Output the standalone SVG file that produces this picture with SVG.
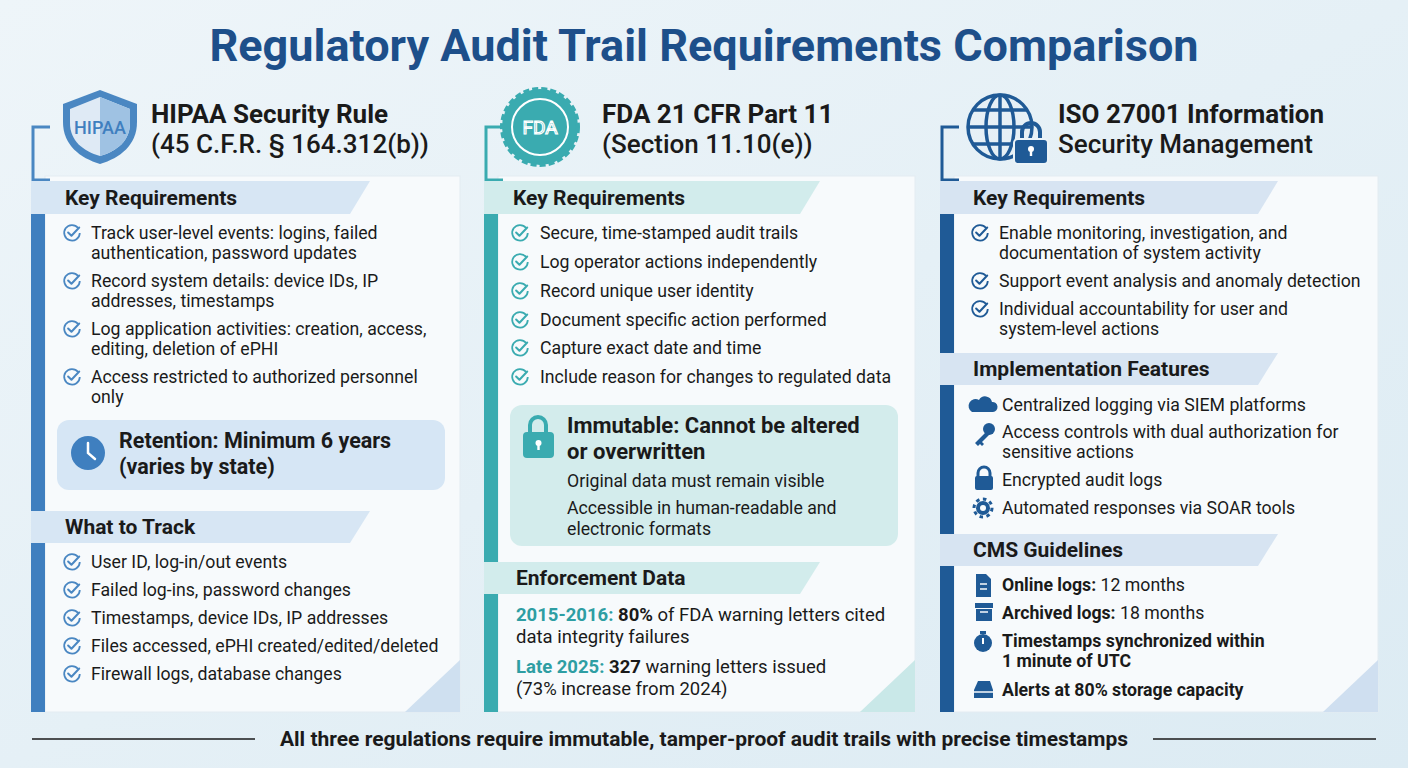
<svg xmlns="http://www.w3.org/2000/svg" width="1408" height="768" viewBox="0 0 1408 768">
<defs>
<linearGradient id="bg" x1="0" y1="0" x2="1" y2="1"><stop offset="0" stop-color="#eef5f9"/><stop offset="1" stop-color="#dcebf3"/></linearGradient>
<symbol id="chk" viewBox="-9 -9 18 18"><path d="M5.5,-4.5 A7,7 0 1 0 7,0" fill="none" stroke-width="1.6" stroke="currentColor"/><path d="M-3.5,-0.5 L-0.5,2.5 L6.5,-5" fill="none" stroke-width="1.8" stroke="currentColor" stroke-linecap="round" stroke-linejoin="round"/></symbol>
</defs>
<style>
text{font-family:Roboto,"Liberation Sans",sans-serif;fill:#1a1a1a}
.t{font-size:17.7px}
.h{font-size:21px;font-weight:700}
.hd{font-size:26px;font-weight:700}
.hd2{font-size:26px;font-weight:500}
.b{font-weight:700}
.card{fill:#f7fafc;stroke:#e3ecf2}
</style>
<rect width="1408" height="768" fill="url(#bg)"/>
<text x="704" y="61" text-anchor="middle" style="font-size:45px;font-weight:700;fill:#1d4f8a">Regulatory Audit Trail Requirements Comparison</text>

<g id="hipaa">
<rect class="card" x="45" y="176" width="415" height="536"/>
<path d="M460,660 L460,712 L405,712 Z" fill="#cfe0f0"/>
<path d="M50,127 H33 V180 H50" fill="none" stroke="#4a87c2" stroke-width="3"/>
<rect x="31" y="214" width="14" height="498" fill="#3f7fbf"/>
<path d="M31,181 H370 L350,214 H31 Z" fill="#d7e6f4"/>
<path d="M31,511 H370 L350,543 H31 Z" fill="#d7e6f4"/>
<path d="M100,90 L137,104 V122 C137,145 120,158 100,164 C80,158 63,145 63,122 V104 Z" fill="#4a87c2"/>
<path d="M100,97 L130,109 V123 C130,141 117,151 100,156 C83,151 70,141 70,123 V109 Z" fill="#dfeaf5"/>
<path d="M100,97 L130,109 V123 C130,141 117,151 100,156 Z" fill="#9fc2e3"/>
<text x="100" y="134" text-anchor="middle" style="font-size:18px;fill:#3f7fbf;font-weight:500">HIPAA</text>
<text x="151" y="123" class="hd">HIPAA Security Rule</text>
<text x="151" y="153" class="hd2">(45 C.F.R. § 164.312(b))</text>
<text x="65" y="205" class="h">Key Requirements</text>
<g color="#4a87c2"><use href="#chk" x="62" y="223" width="20" height="20"/><use href="#chk" x="62" y="271" width="20" height="20"/><use href="#chk" x="62" y="319" width="20" height="20"/><use href="#chk" x="62" y="367" width="20" height="20"/>
<use href="#chk" x="62" y="552" width="20" height="20"/><use href="#chk" x="62" y="580" width="20" height="20"/><use href="#chk" x="62" y="608" width="20" height="20"/><use href="#chk" x="62" y="636" width="20" height="20"/><use href="#chk" x="62" y="664" width="20" height="20"/></g>
<text class="t" x="91" y="239">Track user-level events: logins, failed</text>
<text class="t" x="91" y="259">authentication, password updates</text>
<text class="t" x="91" y="287">Record system details: device IDs, IP</text>
<text class="t" x="91" y="307">addresses, timestamps</text>
<text class="t" x="91" y="335">Log application activities: creation, access,</text>
<text class="t" x="91" y="355">editing, deletion of ePHI</text>
<text class="t" x="91" y="383">Access restricted to authorized personnel</text>
<text class="t" x="91" y="403">only</text>
<rect x="57" y="420" width="388" height="70" rx="12" fill="#d6e6f5"/>
<circle cx="88" cy="453" r="17" fill="#3f7fbf"/>
<path d="M88,443 V453 L95,459" fill="none" stroke="#fff" stroke-width="2.5" stroke-linecap="round"/>
<text x="119" y="448" style="font-size:21.5px;font-weight:700">Retention: Minimum 6 years</text>
<text x="119" y="474" style="font-size:21.5px;font-weight:700">(varies by state)</text>
<text x="65" y="534" class="h">What to Track</text>
<text class="t" x="91" y="568">User ID, log-in/out events</text>
<text class="t" x="91" y="596">Failed log-ins, password changes</text>
<text class="t" x="91" y="624">Timestamps, device IDs, IP addresses</text>
<text class="t" x="91" y="652">Files accessed, ePHI created/edited/deleted</text>
<text class="t" x="91" y="680">Firewall logs, database changes</text>
</g>

<g id="fda">
<rect class="card" x="498" y="176" width="417" height="536"/>
<path d="M915,660 L915,712 L860,712 Z" fill="#c9e8e8"/>
<path d="M503,127 H486 V180 H503" fill="none" stroke="#3aabb0" stroke-width="3"/>
<rect x="484" y="214" width="14" height="498" fill="#3aabb0"/>
<path d="M484,181 H820 L800,214 H484 Z" fill="#d2ecec"/>
<path d="M484,562 H820 L800,594 H484 Z" fill="#d2ecec"/>
<circle cx="540" cy="127" r="38" fill="#3aabb0" stroke="#3aabb0" stroke-width="4" stroke-dasharray="6 3"/>
<circle cx="540" cy="127" r="28" fill="none" stroke="#fff" stroke-width="2"/>
<text x="540" y="134" text-anchor="middle" style="font-size:19px;font-weight:400;fill:none;stroke:#fff;stroke-width:1.2">FDA</text>
<text x="602" y="123" class="hd">FDA 21 CFR Part 11</text>
<text x="602" y="153" class="hd2">(Section 11.10(e))</text>
<text x="513" y="205" class="h">Key Requirements</text>
<g color="#3aabb0"><use href="#chk" x="510" y="223" width="20" height="20"/><use href="#chk" x="510" y="252" width="20" height="20"/><use href="#chk" x="510" y="281" width="20" height="20"/><use href="#chk" x="510" y="310" width="20" height="20"/><use href="#chk" x="510" y="338" width="20" height="20"/><use href="#chk" x="510" y="367" width="20" height="20"/></g>
<text class="t" x="540" y="239">Secure, time-stamped audit trails</text>
<text class="t" x="540" y="268">Log operator actions independently</text>
<text class="t" x="540" y="297">Record unique user identity</text>
<text class="t" x="540" y="326">Document specific action performed</text>
<text class="t" x="540" y="354">Capture exact date and time</text>
<text class="t" x="540" y="383">Include reason for changes to regulated data</text>
<rect x="510" y="405" width="388" height="141" rx="12" fill="#d3ecec"/>
<path d="M530,433 V425 A8,8 0 0 1 546,425 V433" fill="none" stroke="#3aabb0" stroke-width="4"/>
<rect x="523" y="432" width="31" height="26" rx="4" fill="#3aabb0"/>
<circle cx="538.5" cy="443" r="3" fill="#fff"/><rect x="537.3" y="443" width="2.4" height="7" fill="#fff"/>
<text x="567" y="433" style="font-size:22px;font-weight:700">Immutable: Cannot be altered</text>
<text x="567" y="459" style="font-size:22px;font-weight:700">or overwritten</text>
<text class="t" x="567" y="487">Original data must remain visible</text>
<text class="t" x="567" y="514">Accessible in human-readable and</text>
<text class="t" x="567" y="535">electronic formats</text>
<text x="516" y="585" class="h">Enforcement Data</text>
<text class="t" x="516" y="621" style="font-size:18.5px"><tspan class="b" style="fill:#2e9ea3">2015-2016:</tspan> <tspan class="b">80%</tspan> of FDA warning letters cited</text>
<text class="t" x="516" y="643" style="font-size:18.5px">data integrity failures</text>
<text class="t" x="516" y="673" style="font-size:18.5px"><tspan class="b" style="fill:#2e9ea3">Late 2025:</tspan> <tspan class="b">327</tspan> warning letters issued</text>
<text class="t" x="516" y="695" style="font-size:18.5px">(73% increase from 2024)</text>
</g>

<g id="iso">
<rect class="card" x="954" y="176" width="424" height="536"/>
<path d="M1378,660 L1378,712 L1323,712 Z" fill="#cfdff0"/>
<path d="M959,127 H942 V180 H959" fill="none" stroke="#1f5a96" stroke-width="3"/>
<rect x="940" y="214" width="14" height="498" fill="#1f5a96"/>
<path d="M940,181 H1278 L1258,214 H940 Z" fill="#d7e4f2"/>
<path d="M940,353 H1278 L1258,385 H940 Z" fill="#d7e4f2"/>
<path d="M940,534 H1278 L1258,566 H940 Z" fill="#d7e4f2"/>
<g fill="none" stroke="#1f5a96" stroke-width="3.5">
<circle cx="1000" cy="127" r="32"/><ellipse cx="1000" cy="127" rx="14" ry="32"/><line x1="1000" y1="95" x2="1000" y2="159"/><line x1="968" y1="127" x2="1032" y2="127"/><path d="M973,110 H1027 M973,144 H1020"/></g>
<path d="M1022,140 V132 A9,9 0 0 1 1040,132 V140" fill="none" stroke="#1f5a96" stroke-width="4"/>
<rect x="1014" y="139" width="34" height="25" rx="4" fill="#1f5a96" stroke="#eaf3f8" stroke-width="2"/>
<circle cx="1031" cy="149" r="3" fill="#fff"/><rect x="1029.8" y="149" width="2.4" height="7" fill="#fff"/>
<text x="1058" y="123" class="hd">ISO 27001 Information</text>
<text x="1058" y="153" class="hd2">Security Management</text>
<text x="973" y="205" class="h">Key Requirements</text>
<g color="#1f5a96"><use href="#chk" x="970" y="223" width="20" height="20"/><use href="#chk" x="970" y="271" width="20" height="20"/><use href="#chk" x="970" y="299" width="20" height="20"/></g>
<text class="t" x="999" y="239">Enable monitoring, investigation, and</text>
<text class="t" x="999" y="259">documentation of system activity</text>
<text class="t" x="999" y="287">Support event analysis and anomaly detection</text>
<text class="t" x="999" y="315">Individual accountability for user and</text>
<text class="t" x="999" y="335">system-level actions</text>
<text x="973" y="376" class="h">Implementation Features</text>
<g fill="#1f5a96">
<path d="M972,412 H993 A5,5 0 0 0 992,402 A7,7 0 0 0 979,400 A6,6 0 0 0 972,412 Z"/>
<circle cx="989" cy="429" r="6"/><path d="M986,432 L975,443 L978,446 L980,444 L982,446 L984,444 L982,442 L990,434 Z"/>
<path d="M978,477 V473 A6,6 0 0 1 990,473 V477" fill="none" stroke="#1f5a96" stroke-width="3"/><rect x="975" y="476" width="18" height="14" rx="2"/>
<circle cx="983" cy="508" r="7"/><circle cx="983" cy="508" r="9" fill="none" stroke="#1f5a96" stroke-width="3" stroke-dasharray="3.5 3.5"/><circle cx="983" cy="508" r="3" fill="#f7fafc"/>
<path d="M976,574 H986 L991,579 V597 H976 Z"/>
<rect x="975" y="603" width="18" height="5"/><rect x="976" y="609" width="16" height="12"/>
<circle cx="983" cy="643" r="9"/><rect x="980" y="631" width="6" height="3"/>
<path d="M974,690 L978,681 H990 L993,690 V698 H974 Z"/>
</g>
<path d="M980,584 H987 M980,589 H987" stroke="#f7fafc" stroke-width="1.5"/>
<path d="M980,612 H988" stroke="#f7fafc" stroke-width="1.5"/>
<path d="M983,638 V644" stroke="#fff" stroke-width="2"/>
<path d="M974,692 H993" stroke="#f7fafc" stroke-width="1.5"/>
<text class="t" x="1002" y="411">Centralized logging via SIEM platforms</text>
<text class="t" x="1002" y="438">Access controls with dual authorization for</text>
<text class="t" x="1002" y="458">sensitive actions</text>
<text class="t" x="1002" y="486">Encrypted audit logs</text>
<text class="t" x="1002" y="514">Automated responses via SOAR tools</text>
<text x="973" y="557" class="h">CMS Guidelines</text>
<text class="t" x="1002" y="591"><tspan class="b">Online logs:</tspan> 12 months</text>
<text class="t" x="1002" y="619"><tspan class="b">Archived logs:</tspan> 18 months</text>
<text class="t b" x="1002" y="647">Timestamps synchronized within</text>
<text class="t b" x="1002" y="667">1 minute of UTC</text>
<text class="t b" x="1002" y="696">Alerts at 80% storage capacity</text>
</g>

<g id="connectors">
<line x1="32" y1="739" x2="255" y2="739" stroke="#1a1a1a" stroke-width="1.5"/>
<line x1="1153" y1="739" x2="1376" y2="739" stroke="#1a1a1a" stroke-width="1.5"/>
</g>
<text x="704" y="746" text-anchor="middle" style="font-size:21px;font-weight:700">All three regulations require immutable, tamper-proof audit trails with precise timestamps</text>
</svg>
